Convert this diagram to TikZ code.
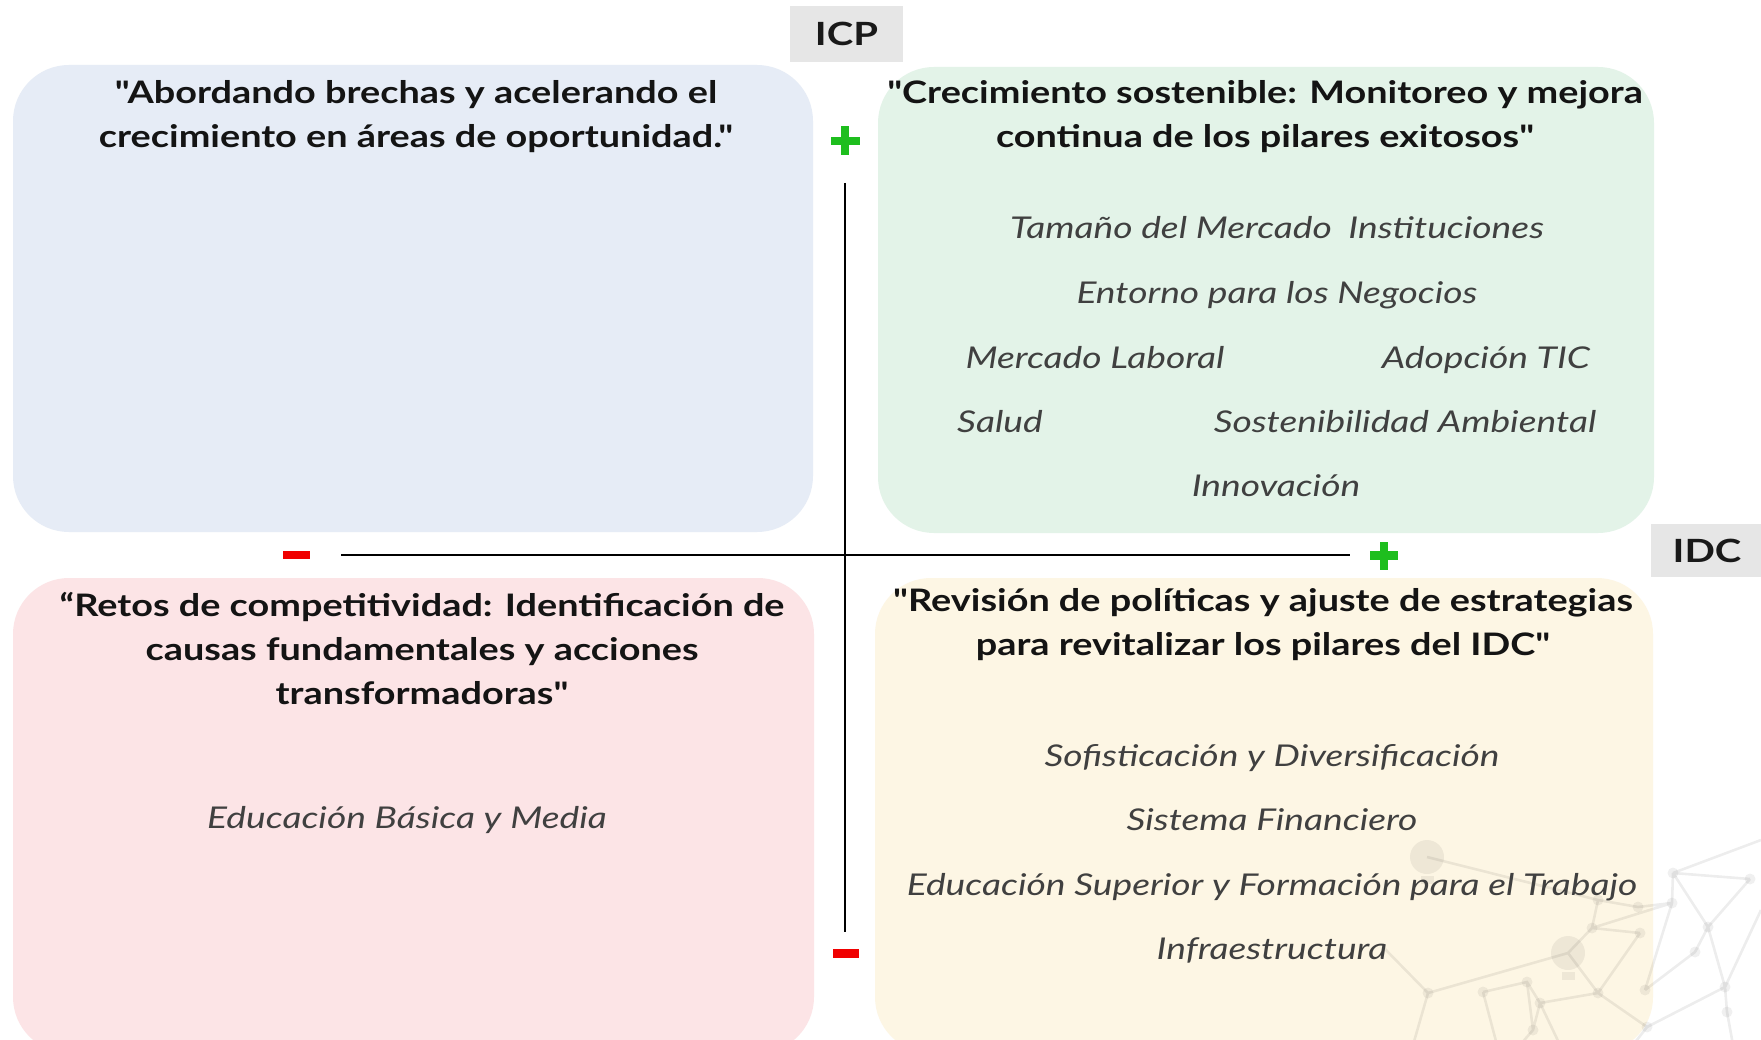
\documentclass[tikz,border=0pt]{standalone}
\usepackage{fontspec}
\setmainfont{Lato}[Ligatures=TeXOff]
\newfontfamily\ttlfont{Lato}[Ligatures=TeXOff, FakeStretch=1.22]
\newfontfamily\itemfont{Lato}[Ligatures=TeXOff, FakeStretch=1.24]
\newfontfamily\labfont{Lato}[Ligatures=TeXOff, FakeStretch=1.25]
\definecolor{cTL}{HTML}{E6ECF6}
\definecolor{cTR}{HTML}{E3F3E8}
\definecolor{cBL}{HTML}{FCE4E6}
\definecolor{cBR}{HTML}{FDF6E4}
\definecolor{cLab}{HTML}{E6E6E6}
\definecolor{cPlus}{HTML}{1EBE1E}
\definecolor{cMinus}{HTML}{F00000}
\definecolor{cItem}{HTML}{404040}
\begin{document}
\begin{tikzpicture}[x=1pt,y=-1pt,
  quadbox/.style={fill=#1, rounded corners=56pt, inner sep=0pt, draw=none},
  labbox/.style={fill=cLab, inner sep=0pt, font=\labfont\fontsize{32}{36}\selectfont\bfseries, text=black!90},
  ttl/.style={align=center, inner sep=0pt, font=\ttlfont\fontsize{31}{44}\selectfont\bfseries, text=black!92},
  item/.style={inner sep=0pt, anchor=base, font=\itemfont\fontsize{30}{36}\selectfont\itshape, text=cItem},
  axis/.style={line width=1.8pt, black},
  net/.style={line width=2.6pt, black, opacity=0.07},
  netdot/.style={fill=black, opacity=0.06},
  plusbar/.style={fill=cPlus, inner sep=0pt, draw=none},
  minusbar/.style={fill=cMinus, inner sep=0pt, draw=none}]
\useasboundingbox (0,0) rectangle (1761,1040);
\clip (0,0) rectangle (1761,1040);
\fill[white] (0,0) rectangle (1761,1040);

% quadrants
\node[quadbox=cTL, minimum width=800pt, minimum height=467pt] (tl) at (413,298.5) {};
\node[quadbox=cTR, minimum width=776pt, minimum height=466pt] (tr) at (1266,300) {};
\node[quadbox=cBL, minimum width=801pt, minimum height=475pt] (bl) at (413.5,815.5) {};
\node[quadbox=cBR, minimum width=778pt, minimum height=475pt] (br) at (1264,815.5) {};

% faint network decoration
\coordinate (nA) at (1673,873);
\coordinate (nB) at (1750,879);
\coordinate (nAx) at (1761,840);
\coordinate (nC) at (1672,903);
\coordinate (nD) at (1708,927);
\coordinate (nE) at (1695,952);
\coordinate (nF) at (1725,987);
\coordinate (nG) at (1727,1012);
\coordinate (nGd) at (1733,1045);
\coordinate (nH) at (1647,1027);
\coordinate (nHd) at (1633,1045);
\coordinate (nI) at (1645,990);
\coordinate (nJ) at (1640,933);
\coordinate (nK) at (1638,907);
\coordinate (nL) at (1592,928);
\coordinate (nM) at (1598,900);
\coordinate (nW2) at (1568,953);
\coordinate (nN) at (1598,993);
\coordinate (nO) at (1540,1003);
\coordinate (nP) at (1527,982);
\coordinate (nQ) at (1483,992);
\coordinate (nR) at (1428,993);
\coordinate (nS) at (1533,1030);
\coordinate (nW1) at (1427,857);
\coordinate (nBx) at (1761,910);
\coordinate (nRl) at (1383,947);
\coordinate (nRd) at (1413,1045);
\coordinate (nQd) at (1497,1045);
\coordinate (nSd) at (1520,1045);
\coordinate (nOd) at (1560,1045);
\draw[net] (nA)--(nAx) (nA)--(nB) (nA)--(nC) (nA)--(nD) (nB)--(nD)
  (nC)--(nK)--(nM)--(nW1) (nC)--(nL) (nL)--(nM) (nL)--(nJ) (nL)--(nW2)
  (nJ)--(nN) (nN)--(nW2) (nN)--(nH) (nC)--(nI) (nI)--(nE) (nD)--(nE)
  (nD)--(nF)--(nG)--(nGd) (nF)--(nH)--(nHd) (nF)--(nBx)
  (nW2)--(nR) (nR)--(nRl) (nR)--(nRd) (nQ)--(nP)--(nO)--(nN)
  (nO)--(nS)--(nSd) (nP)--(nS) (nQ)--(nQd) (nO)--(nOd);
\foreach \p in {nA,nB,nC,nD,nE,nF,nG,nH,nI,nJ,nK,nL,nM,nN,nO,nP,nQ,nR,nS}
  \fill[netdot] (\p) circle (5.5pt);
\fill[netdot] (nW2) circle (17pt);
\fill[netdot] (1562,972) rectangle (1575,980);
\fill[netdot] (nW1) circle (17pt);
\fill[netdot] (1421,876) rectangle (1434,884);

% axes
\coordinate (vtop) at (845,183);
\coordinate (vbot) at (845,932);
\coordinate (hl) at (341,555);
\coordinate (hr) at (1350,555);
\draw[axis] (vtop) -- (vbot);
\draw[axis] (hl) -- (hr);

% plus / minus signs
\node[plusbar, minimum width=29pt, minimum height=8.5pt] (p1h) at (845,141) {};
\node[plusbar, minimum width=8.5pt, minimum height=29pt] (p1v) at (845,141) {};
\node[plusbar, minimum width=28pt, minimum height=8.5pt] (p2h) at (1384,555.5) {};
\node[plusbar, minimum width=8.5pt, minimum height=28pt] (p2v) at (1384,555.5) {};
\node[minusbar, minimum width=27pt, minimum height=8.5pt] (m1) at (296.5,555) {};
\node[minusbar, minimum width=26pt, minimum height=9pt] (m2) at (846,953.5) {};

% axis labels
\node[labbox, minimum width=113pt, minimum height=56pt] (icp) at (846.5,34) {ICP};
\node[labbox, minimum width=112pt, minimum height=53pt] (idc) at (1707,550.5) {IDC};

% titles
\node[ttl] (tlt) at (416,116.5) {"Abordando brechas y acelerando el\\crecimiento en áreas de oportunidad."};
\node[ttl] (trt) at (1265,116.5) {"Crecimiento sostenible: Monitoreo y mejora\\continua de los pilares exitosos"};
\node[ttl] (blt) at (422,649) {“Retos de competitividad: Identificación de\\causas fundamentales y acciones\\transformadoras"};
\node[ttl] (brt) at (1263,624.5) {"Revisión de políticas y ajuste de estrategias\\para revitalizar los pilares del IDC"};

% items
\node[item] (i1) at (1277,239) {Tamaño del Mercado\hspace{0.55em}Instituciones};
\node[item] (i2) at (1277,304) {Entorno para los Negocios};
\node[item] (i3) at (1095,368) {Mercado Laboral};
\node[item] (i4) at (1486,368) {Adopción TIC};
\node[item] (i5) at (1000,432) {Salud};
\node[item] (i6) at (1405,432) {Sostenibilidad Ambiental};
\node[item] (i7) at (1276,496) {Innovación};
\node[item] (i8) at (407,828) {Educación Básica y Media};
\node[item] (i9) at (1272,766) {Sofisticación y Diversificación};
\node[item] (i10) at (1272,830) {Sistema Financiero};
\node[item] (i11) at (1272,895) {Educación Superior y Formación para el Trabajo};
\node[item] (i12) at (1272,959) {Infraestructura};
\end{tikzpicture}
\end{document}
